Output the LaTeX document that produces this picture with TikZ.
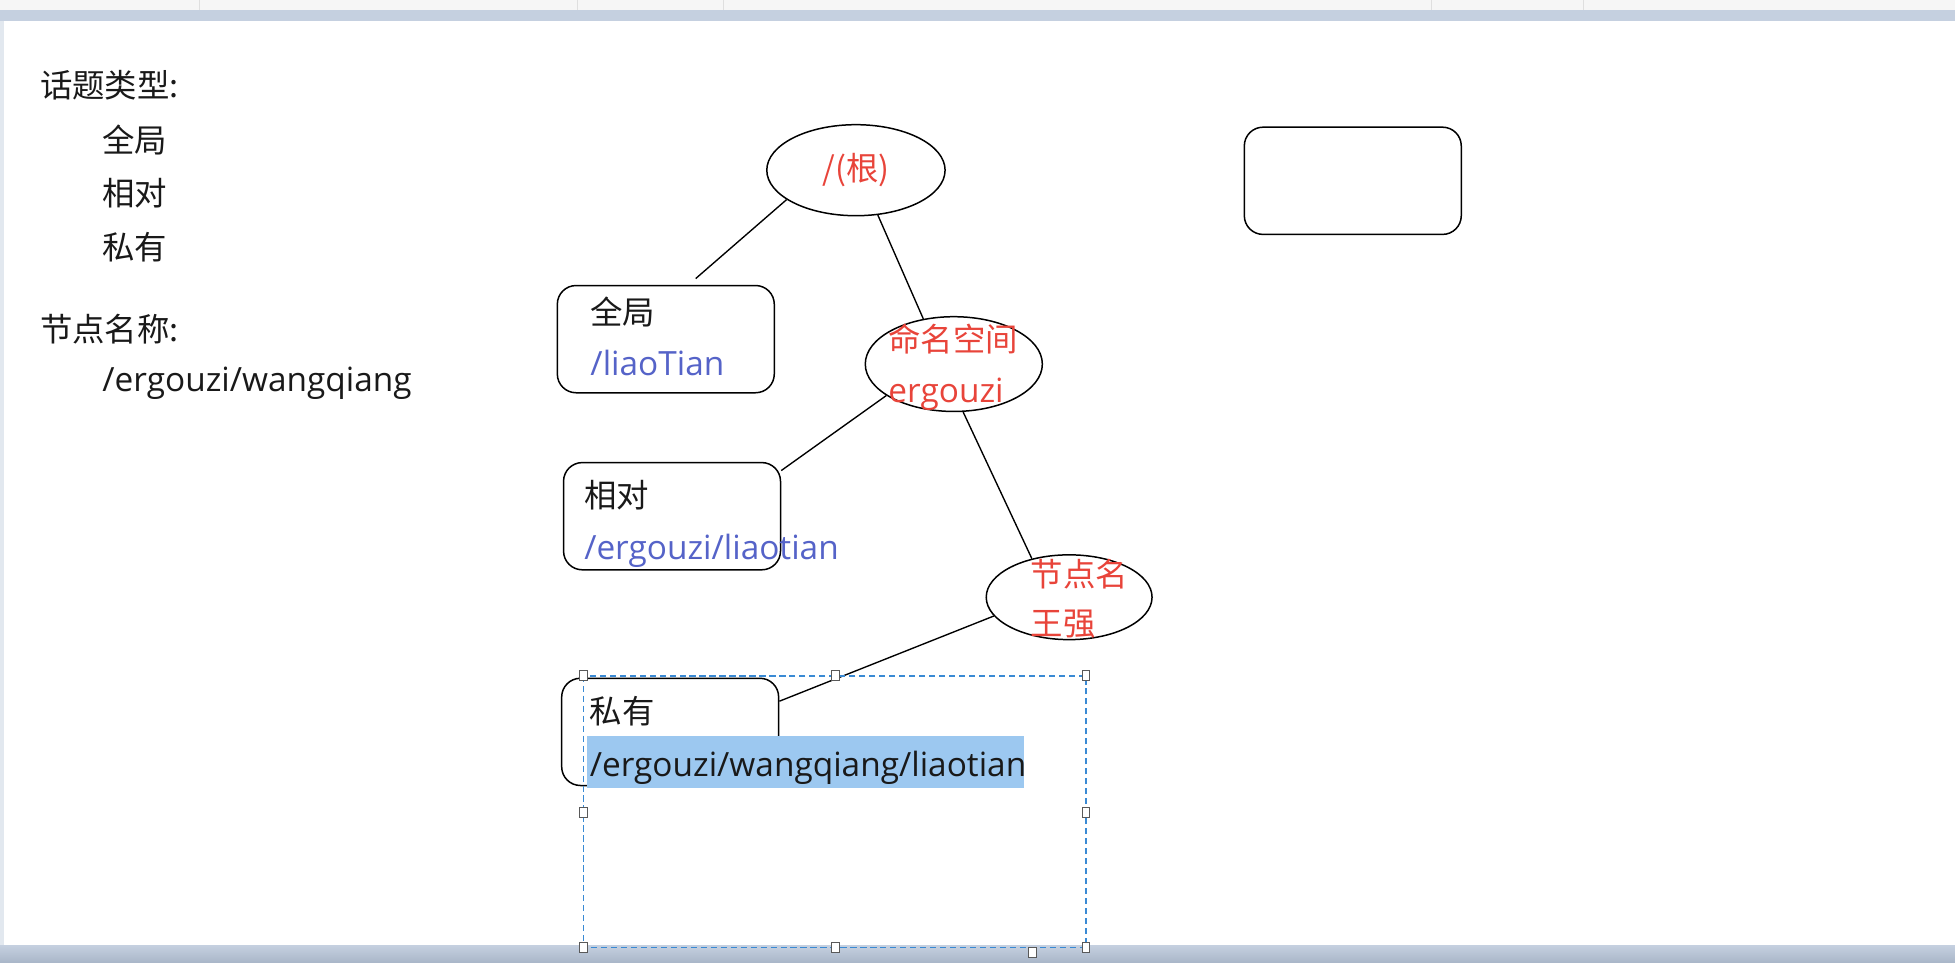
\documentclass[tikz,border=0pt]{standalone}
\usepackage{fontspec}
\setmainfont{Open Sans}[Scale=1.03]
\newfontfamily\cjk{Noto Sans CJK SC}
\usetikzlibrary{shapes.geometric}
\definecolor{rootred}{HTML}{E8443A}
\definecolor{pathblue}{HTML}{5563C8}
\definecolor{selblue}{HTML}{3A8AD4}
\definecolor{hlblue}{HTML}{9CC8F0}
\definecolor{barblue}{HTML}{C5D0E0}
\definecolor{bardark}{HTML}{A9B6C8}
\tikzstyle{topic} = [draw, rectangle, rounded corners=15pt, line width=1.2pt, minimum width=174pt, minimum height=86pt, inner sep=0pt]
\tikzstyle{level} = [draw, ellipse, line width=1.2pt, inner sep=0pt]
\tikzstyle{caption} = [anchor=base west, inner sep=0pt]
\tikzstyle{handle} = [draw=gray!70!black, fill=white, line width=0.8pt, minimum width=6pt, minimum height=8pt, inner sep=0pt]
\tikzstyle{link} = [line width=1.1pt]

\begin{document}
\begin{tikzpicture}[x=1pt, y=-1pt, font=\fontsize{26}{30}\selectfont, text=black!90]
	% page and window edges
	\useasboundingbox (0,0) rectangle (1568,772);
	\fill[gray!7] (0,0) rectangle (1568,8);
	\foreach \x in {160,463,580,1148,1270}
		\draw[gray!25] (\x,0) -- (\x,8);
	\fill[barblue] (0,8) rectangle (1568,17);
	\fill[barblue!50] (0,17) rectangle (3,758);
	\shade[top color=barblue, bottom color=bardark] (0,758) rectangle (1568,772);

	% list on the left
	\node[caption] (kinds) at (32,78) {\cjk 话题类型:};
	\node[caption] (kglob) at (82,122) {\cjk 全局};
	\node[caption] (krel) at (82,165) {\cjk 相对};
	\node[caption] (kpriv) at (82,208) {\cjk 私有};
	\node[caption] (names) at (32,274) {\cjk 节点名称:};
	\node[caption] (nexample) at (82,314) {/ergouzi/wangqiang};

	% tree of names
	\node[level, minimum width=143pt, minimum height=73pt, text=rootred] (root) at (686.5,136.5) {\cjk /(根)};
	\node[level, minimum width=142pt, minimum height=76pt] (space) at (765,292) {};
	\node[level, minimum width=133pt, minimum height=68pt] (leaf) at (857.5,479) {};
	\node[topic] (glob) at (534,272) {};
	\node[topic] (rel) at (539,414) {};
	\node[topic] (priv) at (537.5,587) {};
	\node[topic] (blank) at (1085,145) {};

	\draw[link] (root.203) -- ([xshift=24pt,yshift=5pt]glob.north);
	\draw[link] (root.296) -- (space.124);
	\draw[link] (space.205) -- ([yshift=-7pt]rel.north east);
	\draw[link] (space.281) -- (leaf.134);
	\draw[link] (leaf.194) -- ([yshift=-19pt]priv.north east);

	\fill[hlblue] (471,590) rectangle (821,632);

	\node[caption] (globname) at ([xshift=27pt,yshift=-32pt]glob.north west) {\cjk 全局};
	\node[caption, text=pathblue] (globpath) at ([xshift=27pt,yshift=-73pt]glob.north west) {/liaoTian};
	\node[caption] (relname) at ([xshift=17pt,yshift=-37pt]rel.north west) {\cjk 相对};
	\node[caption, text=pathblue] (relpath) at ([xshift=17pt,yshift=-78pt]rel.north west) {/ergouzi/liaotian};
	\node[caption] (privname) at ([xshift=23pt,yshift=-37pt]priv.north west) {\cjk 私有};
	\node[caption] (privpath) at ([xshift=23pt,yshift=-79pt]priv.north west) {/ergouzi/wangqiang/liaotian};
	\node[caption, text=rootred] (spacename) at ([xshift=19pt,yshift=10pt]space.west) {\cjk 命名空间};
	\node[caption, text=rootred] (spaceid) at ([xshift=19pt,yshift=-31pt]space.west) {ergouzi};
	\node[caption, text=rootred] (leafname) at ([xshift=36pt,yshift=9pt]leaf.west) {\cjk 节点名};
	\node[caption, text=rootred] (leafid) at ([xshift=36pt,yshift=-31pt]leaf.west) {\cjk 王强};

	% selection frame
	\draw[selblue, line width=1.2pt, dash pattern=on 5pt off 3pt] (468,542) rectangle (871,760);
	\foreach \p [count=\i] in {(468,542),(670,542),(871,542),(468,652),(871,652),(468,760),(670,760),(871,760),(828,764)}
		\node[handle] (grip\i) at \p {};
\end{tikzpicture}
\end{document}
